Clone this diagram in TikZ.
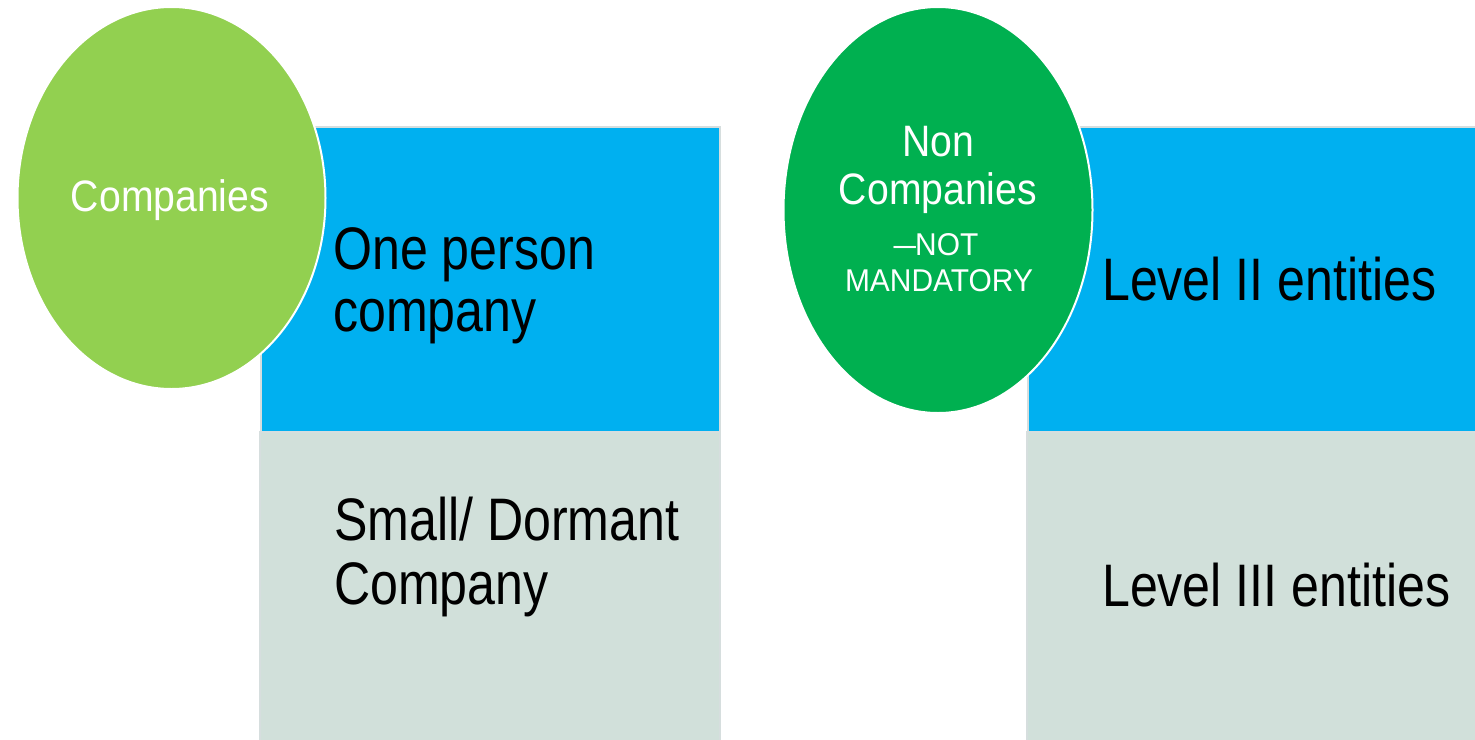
\documentclass[tikz,border=0pt]{standalone}
\usepackage{fontspec}
\usepackage{graphicx}
\setmainfont{Liberation Sans}
\newfontfamily\narrowfont[FakeStretch=0.835]{Liberation Sans}
\newfontfamily\bubfont[FakeStretch=0.89]{Liberation Sans}
\newfontfamily\smallfont[FakeStretch=0.95]{Liberation Sans}
\usetikzlibrary{shapes.geometric}
\definecolor{lgreen}{HTML}{92D050}
\definecolor{dgreen}{HTML}{00B050}
\definecolor{sky}{HTML}{00B0F0}
\definecolor{pale}{HTML}{D1E0DA}
\definecolor{edge}{HTML}{D6DEDE}
\tikzset{
  topbox/.style={fill=sky, draw=edge, line width=1.5pt},
  botbox/.style={fill=pale, draw=edge, line width=1.5pt},
  bubble/.style={draw=white, line width=2pt},
  boxtext/.style={anchor=base west, inner sep=0pt, font=\narrowfont\fontsize{60}{63}\selectfont, text=black},
  bubtext/.style={anchor=base, inner sep=0pt, font=\bubfont\fontsize{44}{46}\selectfont, text=white},
  smalltext/.style={anchor=base, inner sep=0pt, font=\smallfont\fontsize{31.5}{33}\selectfont, text=white}
}
\begin{document}
\begin{tikzpicture}[x=1pt,y=-1pt]
\useasboundingbox (0,0) rectangle (1475,739);
% left group
\path[topbox] (261,127) rectangle (720,432);
\path[botbox] (260,432) rectangle (720,745);
\node[boxtext] (op1) at (333,269) {One person};
\node[boxtext] (op2) at (333,331) {company};
\node[boxtext] (sd1) at (334,540) {Small/ Dormant};
\node[boxtext] (sd2) at (334,604) {Company};
\path[bubble, fill=lgreen] (171.5,198) ellipse [x radius=154, y radius=191];
\node[bubtext] (comp) at (170,211) {Companies};
% right group
\path[topbox] (1028,127) rectangle (1480,432);
\path[botbox] (1027,432) rectangle (1480,745);
\node[boxtext] (l2) at (1102,300) {Level II entities};
\node[boxtext] (l3) at (1102,606) {Level III entities};
\path[bubble, fill=dgreen] (938,210) ellipse [x radius=154.5, y radius=203];
\node[bubtext] (nc1) at (938,156) {Non};
\node[bubtext] (nc2) at (938,204) {Companies};
\node[smalltext] (nc3) at (936,255) {\scalebox{1.35}[1]{–}\kern-1pt NOT};
\node[smalltext] (nc4) at (939,291) {MANDATORY};
\end{tikzpicture}
\end{document}
